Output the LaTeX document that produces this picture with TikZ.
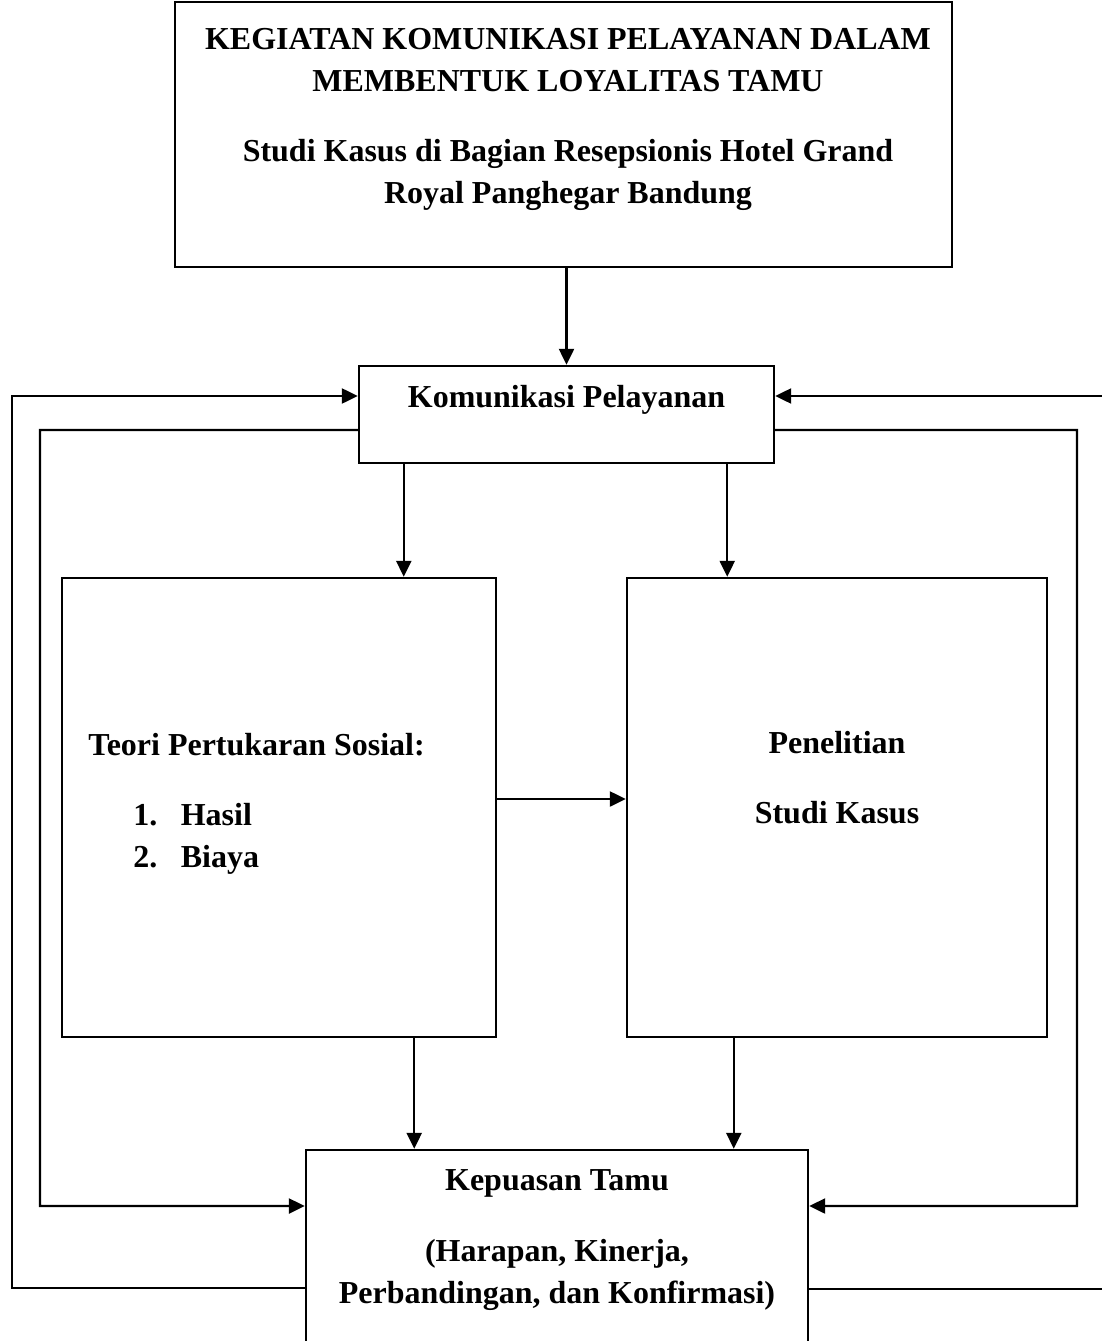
\documentclass[tikz,border=0pt]{standalone}
\usepackage{fontspec}
\setmainfont{Liberation Serif}
\usetikzlibrary{arrows.meta}

\begin{document}
\begin{tikzpicture}
[box/.style={draw, line width = 1.4pt, inner sep = 0pt},
teks/.style={font=\bfseries\fontsize{18.2pt}{23.9pt}\selectfont, align=center, inner sep = 0pt},
garis/.style={line width = 1.4pt},
panah/.style={line width = 1.4pt, -{Triangle[length=0.32cm, width=0.3cm]}}]
\useasboundingbox (0,0) rectangle (22.02,-26.82);
\node[box, minimum width = 15.54cm, minimum height = 5.3cm] (judul) at (11.27,-2.69) {};
\node[teks, anchor=base] (judul teks) at (11.36,-4.08) {KEGIATAN KOMUNIKASI PELAYANAN DALAM\\MEMBENTUK LOYALITAS TAMU\\[0.58cm]Studi Kasus di Bagian Resepsionis Hotel Grand\\Royal Panghegar Bandung};
\node[box, minimum width = 8.3cm, minimum height = 1.94cm] (kom) at (11.33,-8.29) {};
\node[teks, anchor=base] (kom teks) at (11.33,-8.14) {Komunikasi Pelayanan};
\node[box, minimum width = 8.68cm, minimum height = 9.18cm] (teori) at (5.58,-16.15) {};
\node[teks, anchor=base west] (teori teks) at (1.76,-15.1) {Teori Pertukaran Sosial:};
\node[teks, align=left, anchor=base west] (teori daftar) at (2.66,-17.34) {1.\hspace{0.47cm}Hasil\\2.\hspace{0.47cm}Biaya};
\node[box, minimum width = 8.4cm, minimum height = 9.18cm] (penelitian) at (16.74,-16.15) {};
\node[teks, anchor=base] (penelitian teks) at (16.74,-16.46) {Penelitian\\[0.56cm]Studi Kasus};
\node[box, minimum width = 10.04cm, minimum height = 4.2cm] (kepuasan) at (11.14,-25.1) {};
\node[teks, anchor=base] (kepuasan teks) at (11.14,-26.06) {Kepuasan Tamu\\[0.58cm](Harapan, Kinerja,\\Perbandingan, dan Konfirmasi)};
\coordinate (kiri luar) at (0.24,-7.92);
\coordinate (kiri dalam) at (0.8,-8.6);
\coordinate (kanan luar) at (22.1,-7.92);
\coordinate (kanan dalam) at (21.54,-8.6);
\coordinate (kanan bawah) at (22.1,-25.78);
\draw[panah] (judul.south -| kom.north) -- (kom.north);
\draw[panah] ([xshift=0.92cm]kom.south west) -- ([xshift=0.92cm]kom.south west |- teori.north);
\draw[panah] ([xshift=-0.96cm]kom.south east) -- ([xshift=-0.96cm]kom.south east |- penelitian.north);
\draw[panah] ([yshift=0.17cm]teori.east) -- ([yshift=0.17cm]teori.east -| penelitian.west);
\draw[panah] ([xshift=-1.66cm]teori.south east) -- ([xshift=-1.66cm]teori.south east |- kepuasan.north);
\draw[panah] ([xshift=2.16cm]penelitian.south west) -- ([xshift=2.16cm]penelitian.south west |- kepuasan.north);
\draw[panah] ([yshift=-0.66cm]kepuasan.west) -| (kiri luar) -- ([yshift=0.37cm]kom.west);
\draw[panah] ([yshift=-0.31cm]kom.west) -- (kiri dalam) |- ([yshift=0.98cm]kepuasan.west);
\draw[panah] (kanan luar) -- ([yshift=0.37cm]kom.east);
\draw[panah] ([yshift=-0.31cm]kom.east) -- (kanan dalam) |- ([yshift=0.98cm]kepuasan.east);
\draw[garis] ([yshift=-0.68cm]kepuasan.east) -- (kanan bawah);
\end{tikzpicture}
\end{document}
